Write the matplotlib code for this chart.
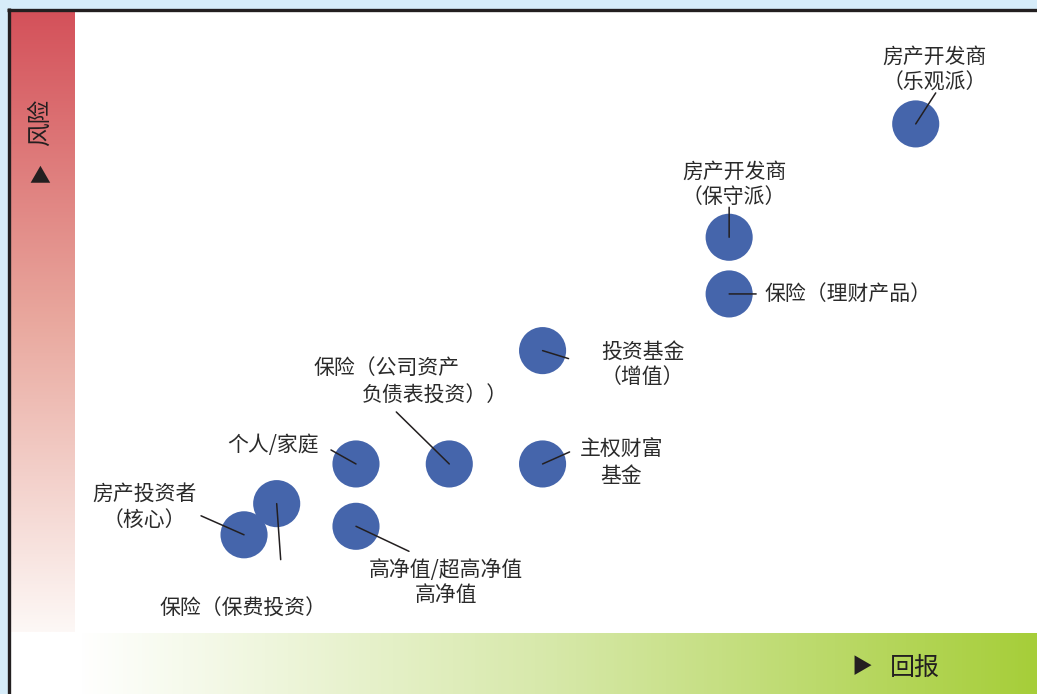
import numpy as np
import matplotlib
matplotlib.use("Agg")
import matplotlib.pyplot as plt
from matplotlib.colors import LinearSegmentedColormap

plt.rcParams['font.family'] = ['Noto Sans CJK SC', 'DejaVu Sans']

# investor types: return (x) vs risk (y)
names = ['房产开发商\n（乐观派）', '房产开发商\n（保守派）', '保险（理财产品）', '投资基金\n（增值）',
         '保险（公司资产\n负债表投资））', '个人/家庭', '主权财富\n基金', '高净值/超高净值\n高净值',
         '保险（保费投资）', '房产投资者\n（核心）']
returns = [9.0, 7.0, 7.0, 5.0, 4.0, 3.0, 5.0, 3.0, 2.15, 1.8]
risks = [9.0, 7.0, 6.0, 5.0, 3.0, 3.0, 3.0, 1.9, 2.3, 1.75]

# leader line end (dx, dy) and label centre (dx, dy, ha), in pixels from the bubble
leaders = [(20, 31), (0, 30), (27, 0), (26, -8), (-53, 52), (-25, 14),
           (27, 12), (53, -25), (4, -56), (-43, 19)]
label_pos = [(19, 54, 'center'), (5, 53, 'center'), (35, 0, 'left'), (100, -14, 'center'),
             (None, None, None), (-83, 19, 'center'), (79, 1, 'center'), (90, -56, 'center'),
             (-34, -105, 'center'), (-100, 28, 'center')]

W, H = 1037, 694
fig = plt.figure(figsize=(W / 100, H / 100), dpi=100)
fig.patch.set_facecolor('#d6ecf9')

# pixel-space background: frame and gradient bands
bg = fig.add_axes([0, 0, 1, 1])
bg.add_patch(plt.Rectangle((9, 9), W, H, facecolor='white', edgecolor='none', zorder=0))
bg.plot([7, W], [9.5, 9.5], color='#231f20', lw=2.4, solid_capstyle='butt', zorder=3)
bg.plot([8.5, 8.5], [8, H], color='#231f20', lw=2.4, solid_capstyle='butt', zorder=3)

red_cmap = LinearSegmentedColormap.from_list('risk', ['#fdf8f6', '#e9a89e', '#d4515a'])
grad_v = np.linspace(1, 0, 256).reshape(-1, 1)
bg.imshow(grad_v, cmap=red_cmap, aspect='auto', extent=[10, 75, 632, 11],
          vmin=0, vmax=1, zorder=1)

green_cmap = LinearSegmentedColormap.from_list('ret', ['#ffffff', '#d6e8a8', '#a6ce39'])
grad_h = np.linspace(0, 1, 256).reshape(1, -1)
bg.imshow(grad_h, cmap=green_cmap, aspect='auto', extent=[78, W, H, 633],
          vmin=0, vmax=1, zorder=1)

bg.set_xlim(0, W)
bg.set_ylim(H, 0)
bg.axis('off')

bg.text(40, 122, '风险', rotation=90, ha='center', va='center', fontsize=17, color='#231f20')
bg.text(40, 176, '▲', ha='center', va='center', fontsize=15, color='#231f20')
bg.text(862, 667, '▶', ha='center', va='center', fontsize=15, color='#231f20')
bg.text(915, 668, '回报', ha='center', va='center', fontsize=18, color='#231f20')

# data axes over the plotting area
ax = fig.add_axes([75 / W, (H - 632) / H, (W - 75) / W, 622 / H])
ax.set_xlim(-0.012, 10.30)
ax.set_ylim(0.035, 11.01)
ax.axis('off')
ax.patch.set_alpha(0)

ax.scatter(returns, risks, s=1150, color='#4565ab', edgecolor='none', zorder=2)

text_kw = dict(textcoords='offset pixels', fontsize=15, color='#2a2a2a', va='center',
               linespacing=1.2)
for i, (x, y) in enumerate(zip(returns, risks)):
    lx, ly = leaders[i]
    ax.annotate('', xy=(x, y), xytext=(lx, ly), textcoords='offset pixels',
                arrowprops=dict(arrowstyle='-', color='#231f20', lw=1.1,
                                shrinkA=0, shrinkB=0), zorder=3)
    tx, ty, ha = label_pos[i]
    if tx is None:
        first, second = names[i].split('\n')
        ax.annotate(first, xy=(x, y), xytext=(-136, 96), ha='left', **text_kw)
        ax.annotate(second, xy=(x, y), xytext=(-87, 68), ha='left', **text_kw)
    else:
        ax.annotate(names[i], xy=(x, y), xytext=(tx, ty), ha=ha, multialignment='center',
                    **text_kw)

fig.savefig('out.png', dpi=100)
